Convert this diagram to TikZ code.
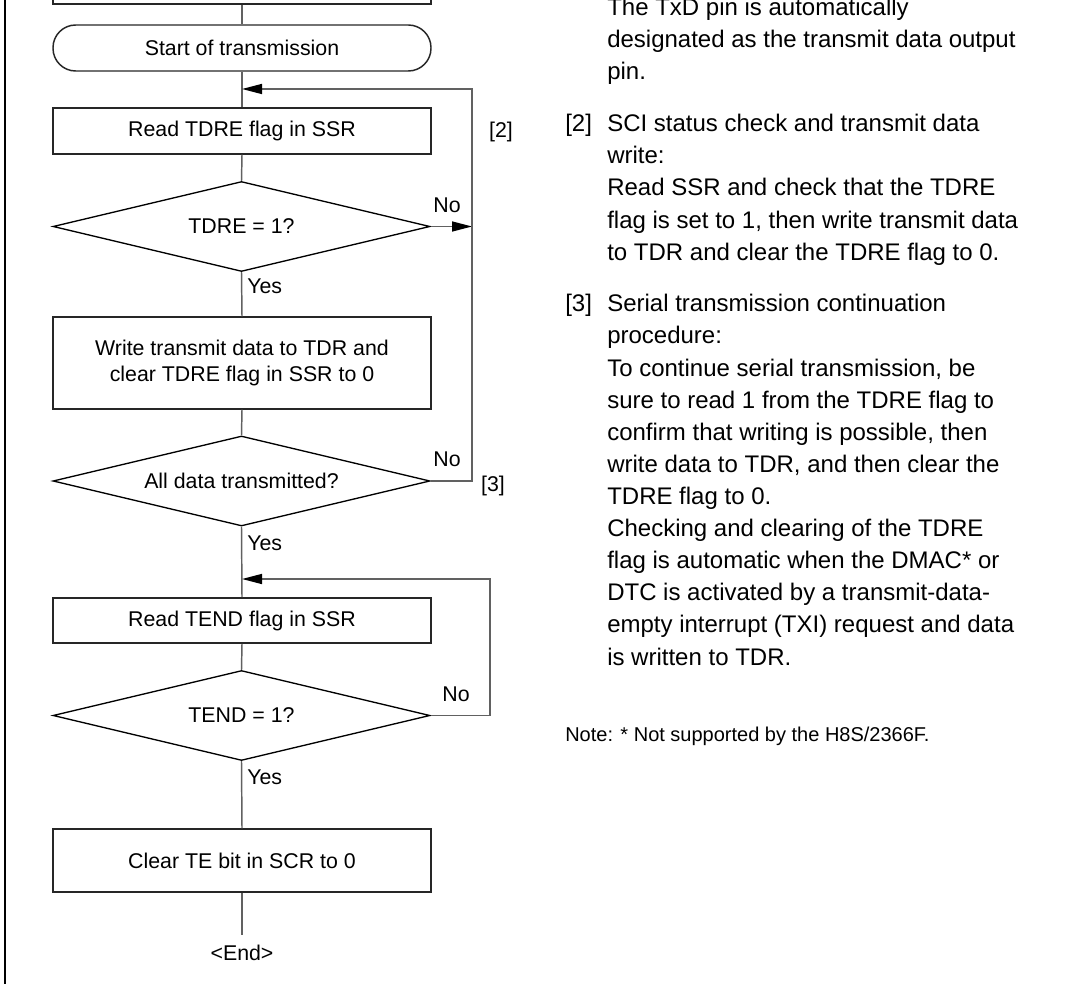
\documentclass[tikz,border=0pt]{standalone}
\usepackage{fontspec}
\setmainfont{Liberation Sans}
\usetikzlibrary{arrows.meta,shapes.geometric}
\begin{document}
\begin{tikzpicture}[x=0.75pt,y=-0.75pt,
  flowfont/.style={font=\fontsize{16}{19.5}\selectfont},
  box/.style={draw=black!85, line width=1.1pt, minimum width=283.5pt, inner sep=0pt, align=center, flowfont},
  dec/.style={draw=black, line width=1pt, shape=diamond, aspect=4.2, inner sep=0pt, minimum width=282.75pt, minimum height=67.5pt, flowfont},
  conn/.style={draw=black!62, line width=1.1pt},
  arr/.style={-{Triangle[length=15pt,width=7.5pt,color=black]}},
  lbl/.style={inner sep=0pt, flowfont},
  rt/.style={anchor=base west, inner sep=0pt, font=\fontsize{18}{22}\selectfont},
  notefont/.style={anchor=base west, inner sep=0pt, font=\fontsize{15}{18}\selectfont}
]
\useasboundingbox (0,0) rectangle (1068,984);
\clip (0,0) rectangle (1068,984);

% left border
\draw[line width=2.2pt] (5,-5) -- (5,990);

% flow nodes
\node[box, minimum height=33pt] (prev) at (242,-18) {};
\node[box, minimum height=34.5pt, rounded corners=17pt] (start) at (242,48) {Start of transmission};
\node[box, minimum height=34.5pt] (rd1) at (242,131) {Read TDRE flag in SSR};
\node[dec] (d1) at (241.5,226.5) {TDRE = 1?};
\node[box, minimum height=69pt] (wr) at (242,363) {Write transmit data to TDR and\\clear TDRE flag in SSR to 0};
\node[dec] (d2) at (241.5,481) {All data transmitted?};
\node[box, minimum height=34pt] (rd2) at (242,620.5) {Read TEND flag in SSR};
\node[dec] (d3) at (241.5,715.5) {TEND = 1?};
\node[box, minimum height=47.25pt] (clr) at (242,860.5) {Clear TE bit in SCR to 0};
\node[lbl] (endn) at (242,953) {<End>};
\coordinate (endl) at (242,935);

% junction and loop coordinates
\coordinate (j1) at (242,89);
\coordinate (j2) at (242,579);
\coordinate (l1) at (472,0);
\coordinate (l2) at (490,0);

% straight connectors
\draw[conn] (prev.south) -- (start.north);
\draw[conn] (start.south) -- (rd1.north);
\draw[conn] (rd1.south) -- (d1.north);
\draw[conn] (d1.south) -- (wr.north);
\draw[conn] (wr.south) -- (d2.north);
\draw[conn] (d2.south) -- (rd2.north);
\draw[conn] (rd2.south) -- (d3.north);
\draw[conn] (d3.south) -- (clr.north);
\draw[conn] (clr.south) -- (endl);

% loops
\draw[conn,arr] (d1.east) -- (d1.east -| l1);
\draw[conn,arr] (d2.east) -- (d2.east -| l1) -- (j1 -| l1) -- (j1);
\draw[conn,arr] (d3.east) -- (d3.east -| l2) -- (j2 -| l2) -- (j2);

% labels
\node[lbl, anchor=west] at (247,286) {Yes};
\node[lbl, anchor=west] at (247,543) {Yes};
\node[lbl, anchor=west] at (247,777) {Yes};
\node[lbl] at (447,205) {No};
\node[lbl] at (447,459) {No};
\node[lbl] at (456,694) {No};
\node[lbl] at (501,132) {[2]};
\node[lbl] at (493,486) {[3]};

% right-hand text
\node[rt] at (607,15.5) {The TxD pin is automatically};
\node[rt] at (607,47.7) {designated as the transmit data output};
\node[rt] at (607,79.9) {pin.};

\node[rt] at (565,131.5) {[2]};
\node[rt] at (607,131.5) {SCI status check and transmit data};
\node[rt] at (607,163.7) {write:};
\node[rt] at (607,195.9) {Read SSR and check that the TDRE};
\node[rt] at (607,228.1) {flag is set to 1, then write transmit data};
\node[rt] at (607,260.3) {to TDR and clear the TDRE flag to 0.};

\node[rt] at (565,311.9) {[3]};
\node[rt] at (607,311.9) {Serial transmission continuation};
\node[rt] at (607,344.0) {procedure:};
\node[rt] at (607,376.1) {To continue serial transmission, be};
\node[rt] at (607,408.2) {sure to read 1 from the TDRE flag to};
\node[rt] at (607,440.3) {confirm that writing is possible, then};
\node[rt] at (607,472.4) {write data to TDR, and then clear the};
\node[rt] at (607,504.5) {TDRE flag to 0.};
\node[rt] at (607,536.6) {Checking and clearing of the TDRE};
\node[rt] at (607,568.7) {flag is automatic when the DMAC* or};
\node[rt] at (607,600.8) {DTC is activated by a transmit-data-};
\node[rt] at (607,632.9) {empty interrupt (TXI) request and data};
\node[rt] at (607,665.0) {is written to TDR.};

\node[notefont] at (565,741) {Note: * Not supported by the H8S/2366F.};
\end{tikzpicture}
\end{document}
